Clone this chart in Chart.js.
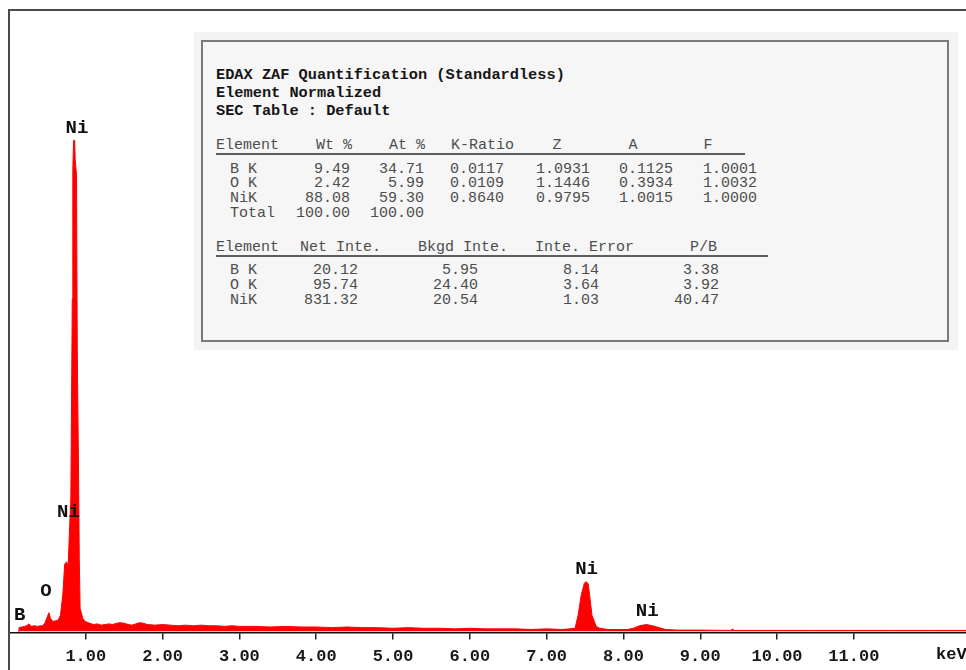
<!DOCTYPE html>
<html lang="en">
<head>
    <meta charset="UTF-8">
    <title>EDAX spectrum</title>
    <script src="https://cdn.jsdelivr.net/npm/chart.js"></script>
    <style>
        body { margin: 0; background: #fff; }
        #wrap { position: relative; width: 966px; height: 670px; overflow: hidden; }
        #spectrum { position: absolute; left: 0; top: 0; }
        .frame { position: absolute; left: 8px; top: 9px; width: 970px; height: 670px;
                 border-left: 2px solid #4a4a4a; border-top: 2px solid #4a4a4a; pointer-events: none; }
        .halo { position: absolute; left: 194px; top: 32px; width: 764px; height: 318px; background: #f3f3f3; }
        .box { position: absolute; left: 201px; top: 40px; width: 744px; height: 298px;
               border: 2px solid #7a7a7a; background: #f6f6f6; }
        .t { position: absolute; font-family: "Liberation Mono", "Courier New", monospace; font-size: 15px;
             color: #4d4d4d; white-space: pre; line-height: 16px; }
        .b { font-weight: bold; color: #151515; font-size: 15.3px; }
        .rule { position: absolute; height: 2px; background: #5e5e5e; }
    </style>
</head>
<body>
<div id="wrap">
    <canvas id="spectrum" width="966" height="674"></canvas>
    <div class="frame"></div>
    <div class="halo"></div>
    <div class="box"></div>
    <div id="table"></div>
</div>

<script>
    // spectrum (keV / counts)
    const energy = [0.12, 0.13, 0.17, 0.20, 0.23, 0.26, 0.29, 0.33, 0.37, 0.41, 0.44, 0.47, 0.50, 0.52, 0.54,
        0.57, 0.61, 0.64, 0.67, 0.70, 0.725, 0.75, 0.77, 0.79, 0.805, 0.824, 0.831, 0.841, 0.855, 0.862,
        0.879, 0.889, 0.905, 0.915, 0.926, 0.96, 0.99, 1.05, 1.10, 1.15, 1.20, 1.25, 1.30, 1.35, 1.40,
        1.45, 1.50, 1.55, 1.60, 1.65, 1.70, 1.75, 1.80, 1.90, 2.00, 2.10, 2.20, 2.30, 2.40, 2.50, 2.60,
        2.70, 2.80, 2.90, 3.00, 3.20, 3.40, 3.60, 3.80, 4.00, 4.20, 4.40, 4.60, 4.80, 5.00, 5.20, 5.40,
        5.60, 5.80, 6.00, 6.20, 6.40, 6.60, 6.80, 7.00, 7.20, 7.30, 7.37, 7.41, 7.45, 7.49, 7.51, 7.54,
        7.56, 7.59, 7.645, 7.69, 7.80, 7.95, 8.05, 8.13, 8.21, 8.30, 8.39, 8.49, 8.55, 8.70, 9.00, 9.40,
        9.42, 9.44, 10.00, 10.50, 11.00, 11.50, 12.00, 12.46];
    const counts = [0, 6, 7, 8, 9, 12, 8, 9, 8, 9, 9, 14, 24, 30, 21,
        16, 17, 18, 26, 58, 108, 112, 104, 170, 213, 535, 743, 790, 790, 759,
        735, 454, 262, 117, 37, 21, 16, 13, 11, 12, 10, 11, 12, 11, 13,
        14, 13, 11, 10, 12, 14, 13, 11, 10, 11, 10, 9, 10, 9, 10, 9,
        9, 8, 9, 8, 8, 7, 8, 7, 7, 6, 7, 6, 6, 5, 6, 5,
        5, 4, 5, 4, 4, 4, 3, 4, 3, 4, 5, 26, 58, 77, 80, 77,
        58, 26, 8, 5, 3, 3, 3, 5, 9, 11, 8.5, 5, 3, 2, 2, 1.5,
        4, 1.5, 1.5, 1.5, 1.5, 1.5, 1.5, 1.5];

    const tickValues = [1, 2, 3, 4, 5, 6, 7, 8, 9, 10, 11];

    // element markers
    const labelText = ['B', 'O', 'Ni', 'Ni', 'Ni', 'Ni'];
    const labelEnergy = [0.138, 0.482, 0.775, 0.885, 7.52, 8.31];
    const labelCounts = [26, 65, 191, 809, 100, 32];

    // quantification tables
    const titleLines = ['EDAX ZAF Quantification (Standardless)', 'Element Normalized', 'SEC Table : Default'];
    const quantHeader = ['Element', 'Wt %', 'At %', 'K-Ratio', 'Z', 'A', 'F'];
    const quantRows = [
        ['B K', '9.49', '34.71', '0.0117', '1.0931', '0.1125', '1.0001'],
        ['O K', '2.42', '5.99', '0.0109', '1.1446', '0.3934', '1.0032'],
        ['NiK', '88.08', '59.30', '0.8640', '0.9795', '1.0015', '1.0000'],
        ['Total', '100.00', '100.00', '', '', '', '']
    ];
    const intHeader = ['Element', 'Net Inte.', 'Bkgd Inte.', 'Inte. Error', 'P/B'];
    const intRows = [
        ['B K', '20.12', '5.95', '8.14', '3.38'],
        ['O K', '95.74', '24.40', '3.64', '3.92'],
        ['NiK', '831.32', '20.54', '1.03', '40.47']
    ];

    // ---- text box ----
    const table = document.getElementById('table');
    function put(txt, x, y, align, cls) {
        const d = document.createElement('div');
        d.className = 't' + (cls ? ' ' + cls : '');
        d.textContent = txt;
        d.style.left = x + 'px';
        d.style.top = y + 'px';
        const tx = align === 'right' ? '-100%' : align === 'center' ? '-50%' : '0';
        d.style.transform = 'translate(' + tx + ', -50%)';
        table.appendChild(d);
    }
    function rule(x1, x2, y) {
        const r = document.createElement('div');
        r.className = 'rule';
        r.style.left = x1 + 'px'; r.style.width = (x2 - x1) + 'px'; r.style.top = y + 'px';
        table.appendChild(r);
    }

    titleLines.forEach((s, i) => put(s, 216, 75 + i * 18, 'left', 'b'));

    const qHeadX = [[216, 'left'], [352, 'right'], [425, 'right'], [514, 'right'], [557, 'center'], [633, 'center'], [708, 'center']];
    const qColX = [230, 350, 424, 504, 590, 673, 757];
    quantHeader.forEach((h, i) => put(h, qHeadX[i][0], 146, qHeadX[i][1]));
    rule(216, 745, 153);
    quantRows.forEach((row, r) => {
        const y = [170, 184, 199, 214][r];
        row.forEach((v, i) => { if (v) put(v, qColX[i], y, i === 0 ? 'left' : 'right'); });
    });

    const iHeadX = [216, 300, 418, 535, 690];
    const iColX = [230, 358, 478, 599, 719];
    intHeader.forEach((h, i) => put(h, iHeadX[i], 248, 'left'));
    rule(216, 768, 255);
    intRows.forEach((row, r) => {
        const y = 271 + r * 15;
        row.forEach((v, i) => put(v, iColX[i], y, i === 0 ? 'left' : 'right'));
    });

    // ---- chart ----
    const monoBold = '"Liberation Mono", "Courier New", monospace';

    const markers = {
        id: 'markers',
        afterDatasetsDraw(chart) {
            const { ctx, scales: { x, y } } = chart;
            ctx.save();
            ctx.fillStyle = '#111';
            ctx.textAlign = 'center';
            ctx.textBaseline = 'middle';
            ctx.font = 'bold 19px ' + monoBold;
            labelText.forEach((t, i) => {
                ctx.fillText(t, x.getPixelForValue(labelEnergy[i]), y.getPixelForValue(labelCounts[i]));
            });
            ctx.font = 'bold 17px ' + monoBold;
            ctx.textAlign = 'left';
            ctx.fillText('keV', 936, 655);
            ctx.restore();
        }
    };

    new Chart(document.getElementById('spectrum').getContext('2d'), {
        type: 'line',
        data: {
            datasets: [{
                data: energy.map((e, i) => ({ x: e, y: counts[i] })),
                borderColor: '#ff0000',
                backgroundColor: '#ff0000',
                borderWidth: 1,
                pointRadius: 0,
                tension: 0,
                fill: 'origin'
            }]
        },
        options: {
            responsive: false,
            animation: false,
            layout: { padding: { left: 9, right: 0, top: 10, bottom: 0 } },
            plugins: { legend: { display: false }, tooltip: { enabled: false } },
            scales: {
                x: {
                    type: 'linear', min: 0, max: 12.46,
                    afterBuildTicks: s => { s.ticks = tickValues.map(v => ({ value: v })); },
                    ticks: {
                        callback: v => v.toFixed(2),
                        font: { family: monoBold, size: 17, weight: 'bold' },
                        color: '#1a1a1a', padding: 7, maxRotation: 0, autoSkip: false
                    },
                    grid: { drawOnChartArea: false, drawTicks: true, tickLength: 7, color: '#222', lineWidth: 1.5 },
                    border: { display: true, color: '#111', width: 1.5 }
                },
                y: { display: false, min: -2, max: 1000 }
            }
        },
        plugins: [markers]
    });
</script>
</body>
</html>
